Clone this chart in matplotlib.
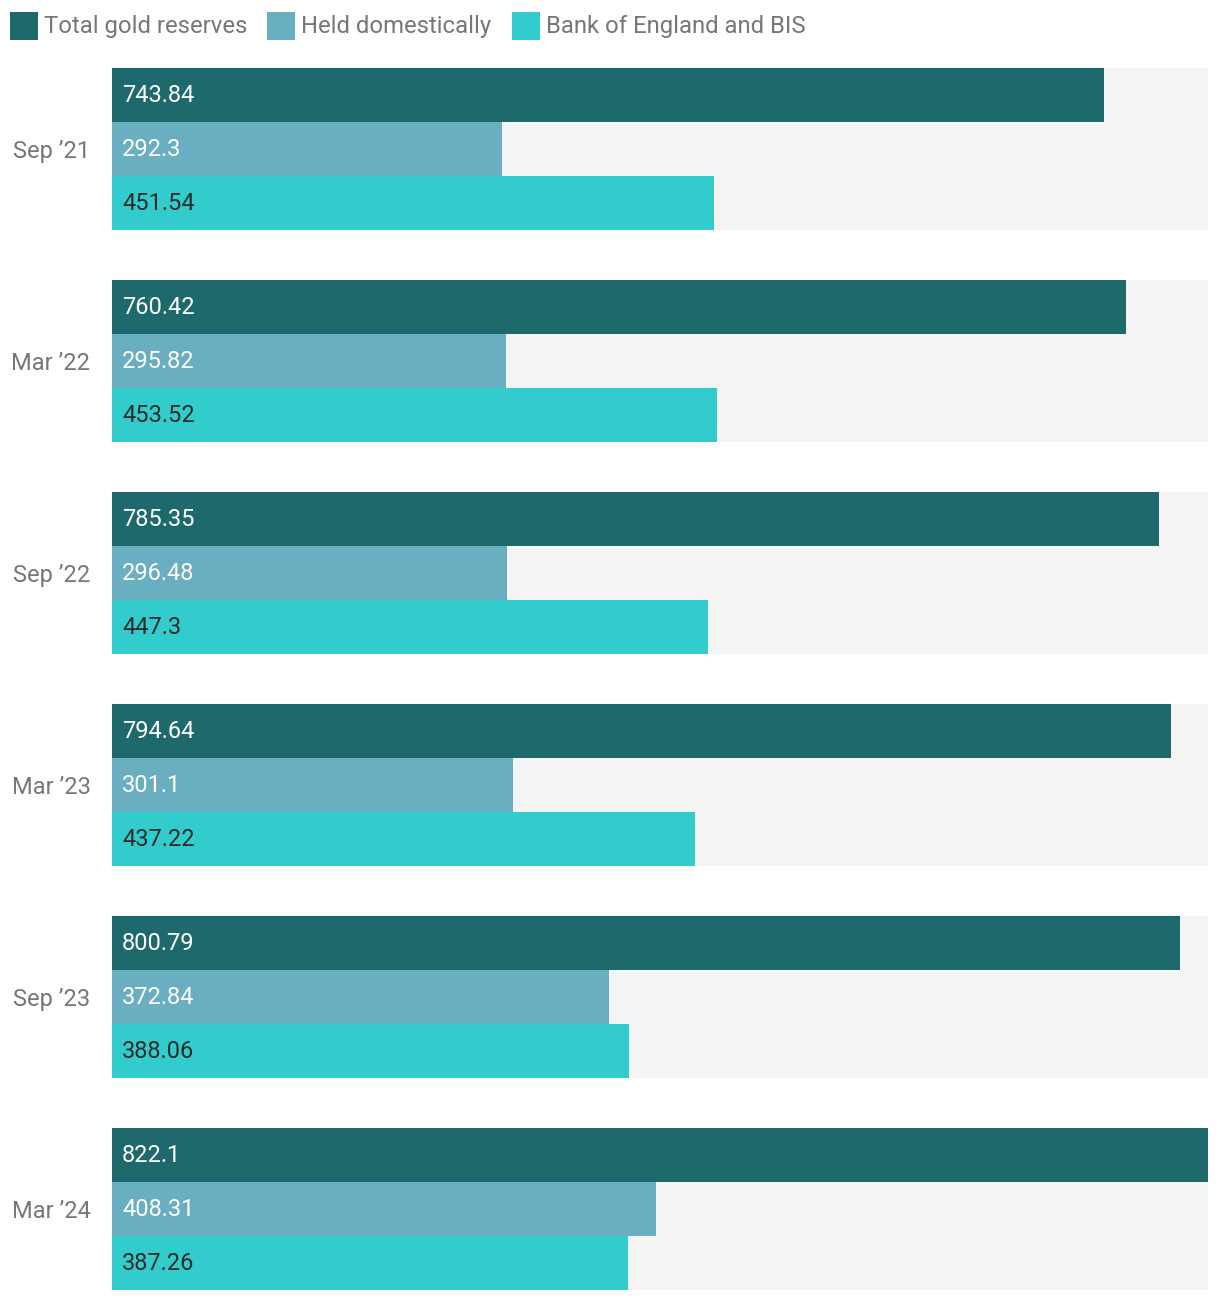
import numpy as np
import matplotlib.pyplot as plt
from matplotlib.patches import Rectangle

plt.rcParams['font.family'] = ['Roboto', 'DejaVu Sans']

periods = ["Sep \u201921", "Mar \u201922", "Sep \u201922", "Mar \u201923", "Sep \u201923", "Mar \u201924"]
total = [743.84, 760.42, 785.35, 794.64, 800.79, 822.1]
domestic = [292.3, 295.82, 296.48, 301.1, 372.84, 408.31]
boe_bis = [451.54, 453.52, 447.3, 437.22, 388.06, 387.26]

series = [
    ("Total gold reserves", total, "#1e696b", "white"),
    ("Held domestically", domestic, "#6aaec2", "white"),
    ("Bank of England and BIS", boe_bis, "#33cccc", "#2b2b2b"),
]

W, H = 1220, 1302
fig = plt.figure(figsize=(W / 100, H / 100), dpi=100)
# axes: x from 112 to 1208 px, y from 68 to 1290 px
ax = fig.add_axes([112 / W, 1 - 1290 / H, 1096 / W, 1222 / H])

bar_h = 54 / 212
group_h = 3 * bar_h
xmax = max(total)
y = np.arange(len(periods))

# grey band behind each group
for i in y:
    ax.add_patch(Rectangle((0, i - group_h / 2), xmax, group_h,
                           facecolor="#f4f4f4", edgecolor="none", zorder=0))

for k, (name, vals, color, tcolor) in enumerate(series):
    pos = y + (k - 1) * bar_h
    ax.barh(pos, vals, height=bar_h, color=color, edgecolor="none", zorder=2)
    for p, v in zip(pos, vals):
        ax.text(xmax * 10 / 1096, p, f"{v:g}", color=tcolor, fontsize=17,
                va="center", ha="left", zorder=3)

ax.set_xlim(0, xmax)
ax.set_ylim(len(periods) - 1 + group_h / 2, -group_h / 2)
ax.set_yticks(y)
ax.set_yticklabels(periods, color="#777777", fontsize=17)
ax.tick_params(axis="y", length=0, pad=15.5)
ax.set_xticks([])
for s in ax.spines.values():
    s.set_visible(False)

# legend
lx = 10
for name, vals, color, tcolor in series:
    fig.patches.append(Rectangle((lx / W, 1 - 40 / H), 28 / W, 28 / H,
                                 facecolor=color, edgecolor="none",
                                 transform=fig.transFigure, figure=fig))
    t = fig.text((lx + 34) / W, 1 - 26 / H, name, color="#777777",
                 fontsize=17.2, va="center", ha="left")
    fig.canvas.draw()
    bb = t.get_window_extent()
    lx = bb.x1 + 20

fig.savefig("out.png", dpi=100)
